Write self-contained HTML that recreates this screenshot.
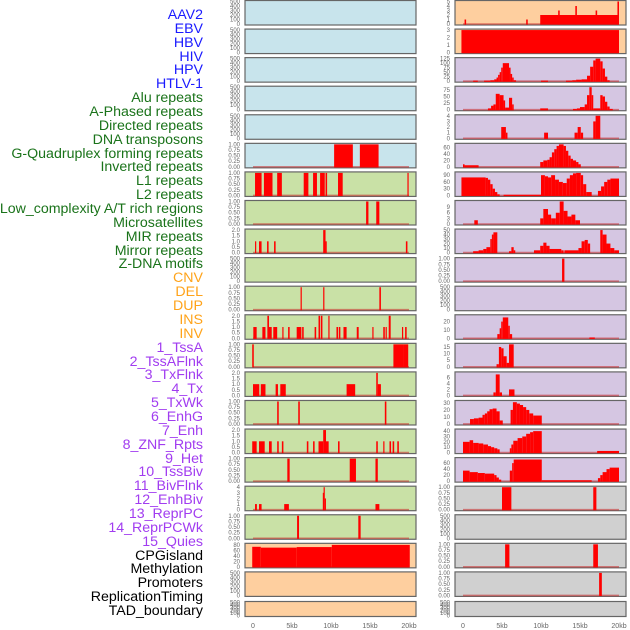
<!DOCTYPE html>
<html><head><meta charset="utf-8"><style>
html,body{margin:0;padding:0;background:#fff;}
#wrap{position:relative;width:630px;height:630px;overflow:hidden;}
.lab{position:absolute;right:427px;font-family:"Liberation Sans",sans-serif;font-size:14.2px;line-height:14px;white-space:nowrap;}
svg{position:absolute;left:0;top:0;}
</style></head><body>
<div id="wrap">
<svg id="chart" width="630" height="630"></svg>
</div>
<script>
const trackLabels = ["AAV2","EBV","HBV","HIV","HPV","HTLV-1","Alu repeats","A-Phased repeats","Directed repeats","DNA transposons","G-Quadruplex forming repeats","Inverted repeats","L1 repeats","L2 repeats","Low_complexity A/T rich regions","Microsatellites","MIR repeats","Mirror repeats","Z-DNA motifs","CNV","DEL","DUP","INS","INV","1_TssA","2_TssAFlnk","3_TxFlnk","4_Tx","5_TxWk","6_EnhG","7_Enh","8_ZNF_Rpts","9_Het","10_TssBiv","11_BivFlnk","12_EnhBiv","13_ReprPC","14_ReprPCWk","15_Quies","CPGisland","Methylation","Promoters","ReplicationTiming","TAD_boundary"];
const labelGroups = [6,13,5,15,5];
const groupColors = ["#1a1aff","#1a731a","#ffa31a","#a13cf0","#000000"];
const xTickKb = [0,5,10,15,20];
const xTickText = ["0","5kb","10kb","15kb","20kb"];
const leftBg = ["b","b","b","b","b","b","g","g","g","g","g","g","g","g","g","g","g","g","g","o","o","o"];
const rightBg = ["o","o","p","p","p","p","p","p","p","p","p","p","p","p","p","p","p","g2","g2","g2","g2","g2"];
const E = [0,100,200,300,400,500];
const leftTicks = [E,E,E,E,E,[0,0.25,0.5,0.75,1],[0,0.25,0.5,0.75,1],[0,0.25,0.5,0.75,1],[0,0.5,1,1.5,2],E,[0,0.25,0.5,0.75,1],[0,0.5,1,1.5,2],[0,0.25,0.5,0.75,1],[0,0.5,1,1.5,2],[0,0.25,0.5,0.75,1],[0,0.5,1,1.5,2],[0,0.25,0.5,0.75,1],[0,1,2,3,4],[0,0.25,0.5,0.75,1],[0,20,40,60,80],E,E];
const leftMax = [500,500,500,500,500,1,1,1,2,500,1,2,1,2,1,2,1,4,1,82,500,500];
const rightTicks = [[0,1,2,3,4,5],[0,1,2,3],[0,25,50,75,100,125],[0,25,50,75],[0,1,2,3,4],[0,20,40,60],[0,30,60,90],[0,3,6,9],[0,10,20,30,40,50],[0,0.25,0.5,0.75,1],E,[0,10,20],[0,5,10,15],[0,2,4,6],[0,10,20,30],[0,10,20,30,40],[0,20,40,60],[0,0.25,0.5,0.75,1],E,[0,0.25,0.5,0.75,1],[0,0.25,0.5,0.75,1],E];
const rightMax = [5,3,125,85,4,70,100,12,50,1,500,27,17,7.5,32,42,75,1,500,1,1,500];
const leftSegs = [null,null,null,null,null,
 [[10.4,12.8,1],[13.7,16.1,1]],
 [[0.26,1.1,1],[1.4,2.5,1],[3.1,3.7,1],[6.5,7.1,1],[7.7,8.2,1],[8.6,9.2,1],[9.3,9.5,1],[10.9,11.5,1],[19.8,19.9,1]],
 [[14.5,14.8,1],[15.8,16.2,1]],
 [[0.26,0.4,1],[0.77,1.1,1],[1.8,2.0,1],[2.7,2.9,1],[9.0,9.3,2],[9.3,9.4,1],[19.6,19.8,1]],
 null,
 [[6.1,6.2,1],[9.0,9.1,1],[16.2,16.4,1]],
 [[0.04,0.47,1],[1.2,1.6,1],[1.84,2.05,2],[2.05,2.4,1],[2.6,3.1,1],[3.76,3.9,1],[4.5,4.7,1],[5.6,6.2,1],[6.3,6.5,1],[7.9,8.1,1],[8.4,8.6,2],[8.7,8.9,2],[9.66,9.8,2],[10.7,10.9,1],[11.0,11.2,1],[11.6,12.0,1],[13.3,13.55,1],[15.3,15.45,1],[16.7,16.9,1],[17.0,17.15,1],[17.4,17.65,2],[19.1,19.25,1],[19.5,19.7,1]],
 [[-0.1,0.1,1],[18.0,19.3,1],[19.3,19.9,1]],
 [[0,0.8,1],[1.0,1.6,1],[2.9,3.2,1],[3.5,4.2,1],[12.0,13.1,1],[15.8,16.0,2],[16.0,16.4,1]],
 [[3.1,3.3,1],[5.8,6.0,1],[16.9,17.1,1]],
 [[-0.1,0.47,1],[0.77,1.5,1],[2.05,2.4,1],[3.1,3.3,1],[3.7,3.9,1],[6.9,7.1,1],[7.7,7.9,1],[8.4,9.0,1],[9.0,9.36,2],[9.36,9.7,1],[10.9,11.1,1],[15.8,16.0,1],[16.7,16.85,1],[17.5,17.7,1],[17.9,18.1,1],[18.5,18.7,1]],
 [[4.4,4.7,1],[12.4,13.2,1],[15.7,16.0,1]],
 [[0.26,0.5,1],[0.77,1.1,1],[4.0,4.6,1],[8.95,9.05,3],[9.05,9.2,4],[9.2,9.3,2],[15.7,16.2,1]],
 [[5.65,5.9,1],[13.5,13.8,1]],
 [[-0.1,1.0,73],[1.0,5.6,70],[5.6,10.1,72],[10.1,20.1,80]],
 null,null];
const rightSegs = [
 [[0.2,0.4,1],[8.1,8.3,1],[9.9,20,2],[12.2,12.4,3],[14.4,14.6,4],[17.0,17.2,3],[19.8,20,5]],
 [[-0.2,20,3]],
 [[1.3,1.9,3],[2.7,3.5,3],[3.5,4.0,5],[4.0,4.3,10],[4.3,4.5,20],[4.5,4.7,35],[4.7,4.9,50],[4.9,5.1,75],[5.1,5.9,100],[5.9,6.1,75],[6.1,6.3,40],[6.3,6.5,20],[6.5,6.8,5],[10.0,10.9,3],[13.2,14.0,3],[14.0,14.5,5],[14.5,15.2,8],[15.2,15.9,10],[15.9,16.3,30],[16.3,16.7,80],[16.7,17.0,115],[17.0,17.6,125],[17.6,17.9,110],[17.9,18.2,70],[18.2,18.5,25],[18.5,18.8,5]],
 [[3.2,3.6,5],[3.6,3.9,15],[3.9,4.2,20],[4.2,4.7,60],[4.7,5.2,55],[5.2,5.4,35],[5.4,5.9,8],[5.9,6.3,45],[6.3,6.5,20],[9.9,10.9,5],[14.1,14.6,3],[14.6,15.0,5],[15.0,15.6,10],[15.6,15.9,20],[15.9,16.2,55],[16.2,16.5,85],[16.5,16.7,55],[16.7,17.6,5],[17.6,17.9,55],[17.9,18.2,50],[18.2,18.5,30],[18.5,18.8,12],[18.8,19.2,3]],
 [[4.9,5.5,2],[5.5,5.7,1],[10.4,10.9,1],[14.3,14.7,1],[14.7,15.1,2],[15.1,15.4,1],[16.7,17.0,3],[17.0,17.6,4]],
 [[0,0.2,8],[0.2,2.0,5],[9.9,10.3,15],[10.3,10.8,20],[10.8,11.1,22],[11.1,11.4,30],[11.4,11.7,45],[11.7,12.0,55],[12.0,12.3,65],[12.3,12.9,70],[12.9,13.2,65],[13.2,13.5,50],[13.5,13.8,35],[13.8,14.1,25],[14.1,14.5,20],[14.5,14.8,15],[14.8,15.1,8]],
 [[-0.2,2.9,80],[2.9,3.2,78],[3.2,3.5,70],[3.5,3.8,50],[3.8,4.1,30],[4.1,4.4,15],[4.4,4.7,5],[5.2,10.0,3],[10.0,10.5,90],[10.5,10.9,85],[10.9,11.3,80],[11.3,11.8,90],[11.8,12.3,70],[12.3,12.8,60],[12.8,13.3,55],[13.3,13.7,75],[13.7,14.1,90],[14.1,14.5,98],[14.5,15.1,100],[15.1,15.4,90],[15.4,15.8,50],[15.8,16.5,15],[17.3,17.7,20],[17.7,18.1,40],[18.1,18.5,60],[18.5,18.9,70],[18.9,20,75]],
 [[1.45,1.9,2],[9.9,10.3,3],[10.3,10.9,8],[10.9,11.3,5],[11.3,11.9,3],[11.9,12.4,6],[12.4,12.9,12],[12.9,13.4,7],[13.4,13.9,4],[13.9,14.4,5],[14.4,15.0,2]],
 [[1.3,2.0,3],[2.0,2.6,5],[2.6,3.0,8],[3.0,3.5,12],[3.5,3.7,30],[3.7,3.9,40],[3.9,4.4,45],[5.9,6.2,3],[6.2,6.5,12],[6.5,6.7,5],[9.1,9.9,5],[9.9,10.3,15],[10.3,10.7,22],[10.7,11.1,15],[11.1,12.6,8],[12.6,12.9,5],[13.0,14.8,5],[14.8,15.2,10],[15.2,15.6,25],[15.6,16.0,28],[16.0,16.3,20],[17.6,17.9,50],[17.9,18.4,40],[18.4,18.9,20],[18.9,19.4,10],[19.4,20,5]],
 [[12.7,13.0,1]],
 null,
 [[4.4,4.7,5],[4.7,4.9,12],[4.9,5.1,20],[5.1,5.8,25],[5.8,6.0,15],[6.0,6.3,5],[16.2,16.9,1]],
 [[4.3,4.6,2],[4.6,4.9,15],[4.9,5.2,14],[5.2,5.6,8],[5.6,5.9,3],[5.9,6.5,17]],
 [[3.9,4.2,1],[4.2,4.7,7],[4.7,5.0,1],[5.9,6.6,2]],
 [[0.9,1.4,7],[1.4,2.0,8],[2.0,2.5,9],[2.5,2.8,13],[2.8,3.1,15],[3.1,3.4,18],[3.4,3.8,21],[3.8,4.3,22],[4.3,4.7,18],[4.7,5.1,5],[6.1,6.4,20],[6.4,6.9,31],[6.9,7.3,29],[7.3,7.7,27],[7.7,8.1,24],[8.1,8.5,20],[8.5,9.0,15],[9.0,10.1,12]],
 [[0,0.85,20],[0.85,1.3,23],[1.3,2.0,18],[2.0,2.6,17],[2.6,3.2,15],[3.2,3.6,12],[3.6,4.0,10],[4.0,4.4,8],[4.4,4.7,6],[6.0,6.2,8],[6.2,6.45,15],[6.45,7.0,22],[7.0,7.6,27],[7.6,8.1,30],[8.1,8.6,35],[8.6,9.0,38],[9.0,10.1,40],[17.2,20,3]],
 [[0,0.85,35],[0.85,1.9,30],[1.9,2.8,27],[2.8,4.0,25],[4.0,4.3,20],[4.3,4.6,12],[4.6,4.9,5],[6.0,6.3,35],[6.3,6.5,60],[6.5,10.1,72],[10.1,16.5,3],[17.3,17.6,10],[17.6,17.9,20],[17.9,18.4,30],[18.4,18.8,40],[18.8,20,45]],
 [[5.0,6.2,1],[16.7,17.1,1]],
 null,
 [[5.4,5.95,1],[16.7,17.3,1]],
 [[17.45,17.8,1]],
 null];

const NS="http://www.w3.org/2000/svg";
const svg=document.getElementById('chart');
const bgColors={b:"#c8e4ec",g:"#c9e1a6",o:"#fecf9f",p:"#d5c6e2",g2:"#d0d0d0"};
function mk(tag,attrs,parent){const e=document.createElementNS(NS,tag);for(const k in attrs)e.setAttribute(k,attrs[k]);(parent||svg).appendChild(e);return e;}
function rowTop(i){return i===21?601.5:i*28.57+0.5;}
function rowH(i){return i===21?15:24.5;}
function xScale(col,kb){return (col===0?253:463)+kb*7.8;}
function fmt(t,ticks){const dec=ticks.some(v=>v%1!==0);if(!dec)return String(t);const q=ticks.some(v=>Math.round(v*100)%10!==0);return q?t.toFixed(2):t.toFixed(1);}
function drawPanel(col,i,bg,ticks,maxV,segs){
  const x0=col===0?245:455, w=171, top=rowTop(i), h=rowH(i);
  const g=mk('g',{});
  
  
  mk('rect',{x:x0,y:top,width:w,height:h,fill:bgColors[bg],stroke:'#666',"stroke-width":1.2},g);
  const base=top+h-1, span=h-2;
  const yS=v=>base-(v/maxV)*span;
  ticks.forEach(t=>{
    const tx=mk('text',{x:col===0?240:450,y:yS(t)+2,"font-size":6,"font-family":"Liberation Sans, sans-serif",fill:'#666',"text-anchor":'end'},g);
    tx.textContent=fmt(t,ticks);
    
    
  });
  if(segs){
    mk('line',{x1:xScale(col,0),x2:xScale(col,20),y1:base,y2:base,stroke:'rgba(200,40,40,0.55)',"stroke-width":1.6},g);
    segs.forEach(s=>{
      const xa=Math.max(x0+1,xScale(col,s[0])), xb=Math.min(x0+w-1,xScale(col,s[1]));
      const yv=Math.max(top+0.6,yS(s[2]));
      const r=mk('rect',{x:xa,y:yv,width:Math.max(1.2,xb-xa),height:base-yv+0.6,fill:'#ff0000'},g);
      
      
    });
  }
}
for(let i=0;i<22;i++){
  drawPanel(0,i,leftBg[i],leftTicks[i],leftMax[i],leftSegs[i]);
  drawPanel(1,i,rightBg[i],rightTicks[i],rightMax[i],rightSegs[i]);
}
[0,1].forEach(col=>{
  xTickKb.forEach((k,j)=>{
    const t=mk('text',{x:xScale(col,k),y:628,"font-size":7,"font-family":"Liberation Sans, sans-serif",fill:'#666',"text-anchor":'middle'});
    t.textContent=xTickText[j];
    
    
  });
});
const wrap=document.getElementById('wrap');
let idx=0;
labelGroups.forEach((n,gi)=>{
  for(let k=0;k<n;k++){
    const d=document.createElement('div');
    d.className='lab';
    d.style.top=(15+idx*13.86-7)+'px';
    d.style.color=groupColors[gi];
    d.textContent=trackLabels[idx];
    
    
    wrap.appendChild(d);
    idx++;
  }
});
</script>
</body></html>
